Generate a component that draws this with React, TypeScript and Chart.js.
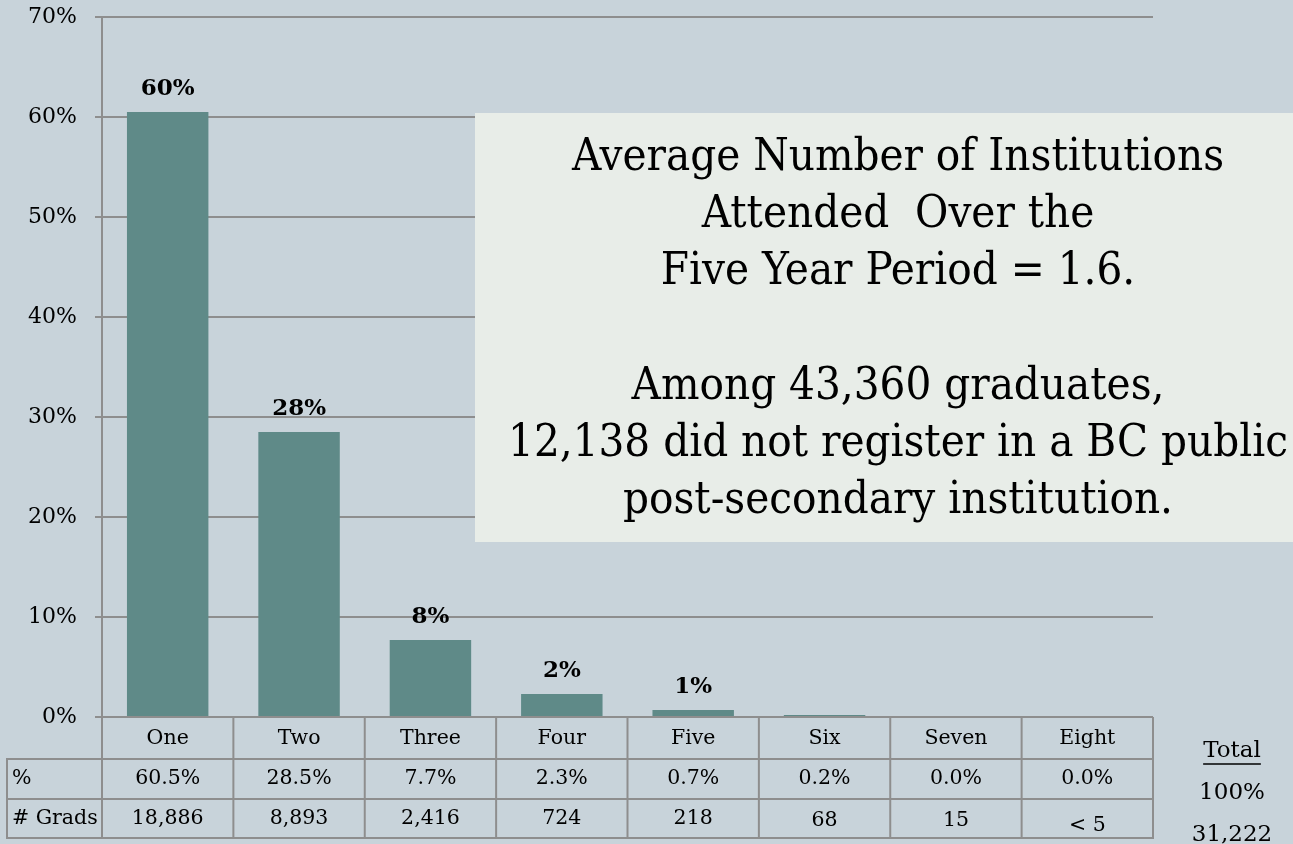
import React, { useEffect, useRef } from "react";
import { Chart, registerables } from "chart.js";

Chart.register(...registerables);

const categories = ["One", "Two", "Three", "Four", "Five", "Six", "Seven", "Eight"];
const shareValues = [60.5, 28.5, 7.7, 2.3, 0.7, 0.2, 0.0, 0.0];
const barLabels = ["60%", "28%", "8%", "2%", "1%", "", "", ""];
const pctRow = ["60.5%", "28.5%", "7.7%", "2.3%", "0.7%", "0.2%", "0.0%", "0.0%"];
const gradsRow = ["18,886", "8,893", "2,416", "724", "218", "68", "15", "< 5"];
const rowHeaders = ["%", "# Grads"];
const totalHeader = "Total";
const totalValues = ["100%", "31,222"];
const yMax = 70;
const yStep = 10;
const noteLines = [
  "Average Number of Institutions",
  "Attended  Over the",
  "Five Year Period = 1.6.",
  "",
  "Among 43,360 graduates,",
  "12,138 did not register in a BC public",
  "post-secondary institution.",
];

const FONT = "'DejaVu Serif', Georgia, serif";
const NOTE_FONT = "'DejaVu Serif Condensed', 'DejaVu Serif', Georgia, serif";
const BG = "#c8d3da";
const BAR = "#5f8a88";
const LINE = "#8e8e8e";
const BOX = "#e8ede8";

const overlayPlugin = {
  id: "overlay",
  beforeDraw(chart: any) {
    const ctx = chart.ctx;
    ctx.save();
    ctx.fillStyle = BG;
    ctx.fillRect(0, 0, chart.width, chart.height);
    ctx.restore();
  },
  afterDatasetsDraw(chart: any) {
    const ctx = chart.ctx;
    const meta = chart.getDatasetMeta(0);
    ctx.save();
    // bar value labels
    ctx.fillStyle = "#000";
    ctx.font = `bold 23px ${FONT}`;
    ctx.textAlign = "center";
    ctx.textBaseline = "alphabetic";
    meta.data.forEach((bar: any, i: number) => {
      const t = barLabels[i];
      if (!t) return;
      ctx.fillText(t, bar.x, bar.y - 17);
    });

    // note box
    const bx = 475, by = 113, bw = chart.width - 475, bh = 429;
    ctx.fillStyle = BOX;
    ctx.fillRect(bx, by, bw, bh);
    ctx.fillStyle = "#000";
    let size = 40;
    ctx.font = `${size}px ${NOTE_FONT}`;
    const widest = Math.max(...noteLines.map((l) => ctx.measureText(l).width));
    size = Math.min(46, (size * 780) / widest);
    ctx.font = `${size}px ${NOTE_FONT}`;
    ctx.textBaseline = "alphabetic";
    const cx = 898;
    const lineGap = 57.2;
    const y0 = 170;
    noteLines.forEach((l, i) => {
      if (l) ctx.fillText(l, cx, y0 + i * lineGap);
    });
    ctx.restore();
  },
  afterDraw(chart: any) {
    const ctx = chart.ctx;
    const area = chart.chartArea;
    const n = categories.length;
    const colW = (area.right - area.left) / n;
    const top = area.bottom;
    const r1 = top + 42;
    const r2 = r1 + 40;
    const r3 = r2 + 39;
    const leftX = 7;
    ctx.save();
    ctx.strokeStyle = LINE;
    ctx.lineWidth = 2;
    ctx.beginPath();
    [r1, r2, r3].forEach((y) => {
      ctx.moveTo(leftX, y);
      ctx.lineTo(area.right + 1, y);
    });
    ctx.moveTo(leftX, r1 - 1);
    ctx.lineTo(leftX, r3 + 1);
    for (let i = 0; i <= n; i++) {
      const x = area.left + i * colW;
      ctx.moveTo(x, top);
      ctx.lineTo(x, r3 + 1);
    }
    ctx.stroke();

    ctx.fillStyle = "#000";
    ctx.font = `20.5px ${FONT}`;
    ctx.textBaseline = "middle";
    ctx.textAlign = "center";
    const xs = chart.scales.x;
    categories.forEach((c, i) => {
      const x = xs.getPixelForValue(i);
      ctx.fillText(c, x, (top + r1) / 2 + 1);
      ctx.fillText(pctRow[i], x, (r1 + r2) / 2);
      const g = gradsRow[i];
      const off = g.startsWith("<") ? 7 : g.length <= 2 ? 2 : 0;
      ctx.fillText(g, x, (r2 + r3) / 2 + off);
    });
    ctx.textAlign = "left";
    ctx.fillText(rowHeaders[0], leftX + 5, (r1 + r2) / 2);
    ctx.fillText(rowHeaders[1], leftX + 5, (r2 + r3) / 2);

    // totals
    ctx.textAlign = "center";
    ctx.font = `23px ${FONT}`;
    const tx = 1232;
    ctx.fillText(totalHeader, tx, 751);
    const tw = ctx.measureText(totalHeader).width;
    ctx.strokeStyle = "#000";
    ctx.lineWidth = 1.5;
    ctx.beginPath();
    ctx.moveTo(tx - tw / 2, 764);
    ctx.lineTo(tx + tw / 2, 764);
    ctx.stroke();
    ctx.fillText(totalValues[0], tx, 793);
    ctx.fillText(totalValues[1], tx, 835);
    ctx.restore();
  },
};

export default function App() {
  const ref = useRef<HTMLCanvasElement | null>(null);
  useEffect(() => {
    if (!ref.current) return;
    Chart.defaults.font.family = FONT;
    const chart = new Chart(ref.current, {
      type: "bar",
      data: {
        labels: categories,
        datasets: [
          {
            data: shareValues,
            backgroundColor: BAR,
            borderWidth: 0,
            barPercentage: 0.62,
            categoryPercentage: 1,
          },
        ],
      },
      options: {
        animation: false,
        responsive: false,
        layout: { padding: { left: 0, top: 17, right: 140, bottom: 127 } },
        plugins: { legend: { display: false }, tooltip: { enabled: false }, title: { display: false } },
        scales: {
          x: { display: false, offset: true },
          y: {
            min: 0,
            max: yMax,
            afterFit: (s: any) => {
              s.width = 102;
              s.paddingTop = 0;
              s.paddingBottom = 0;
            },
            ticks: {
              stepSize: yStep,
              padding: 18,
              color: "#000",
              font: { size: 22, family: FONT },
              callback: (v: any) => `${v}%`,
            },
            grid: { color: LINE, lineWidth: 2, tickLength: 7, drawTicks: true },
            border: { display: true, color: LINE, width: 2 },
          },
        },
      },
      plugins: [overlayPlugin],
    });
    return () => chart.destroy();
  }, []);
  return (
    <div style={{ position: "absolute", left: 0, top: 0, width: 1293, height: 844, background: BG }}>
      <canvas ref={ref} width={1293} height={844} style={{ display: "block" }} />
    </div>
  );
}
